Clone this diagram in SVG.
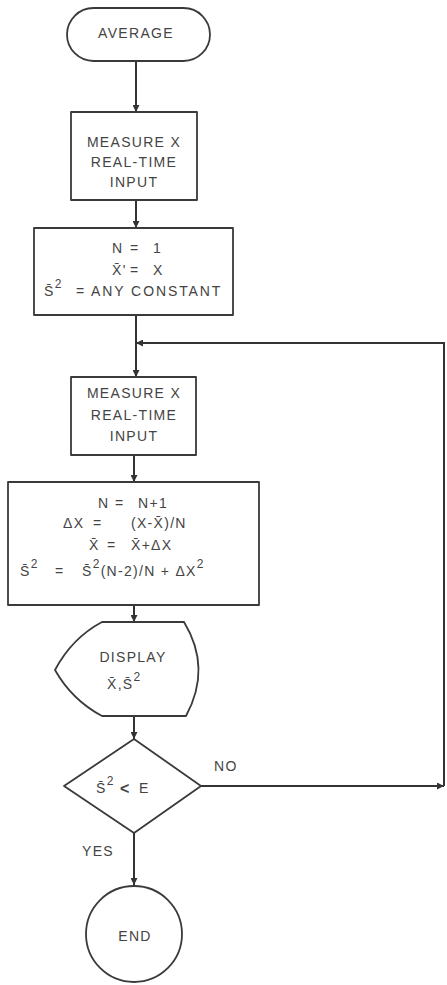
<svg xmlns="http://www.w3.org/2000/svg" width="447" height="985" viewBox="0 0 447 985">
<defs>
<marker id="ah" viewBox="0 0 10 10" refX="10" refY="5" markerWidth="7" markerHeight="7" markerUnits="userSpaceOnUse" orient="auto">
<path d="M0,0 L10,5 L0,10 z" fill="#333"/>
</marker>
<style>
.s{fill:none;stroke:#3a3a3a;stroke-width:1.8;stroke-linejoin:round}
.c{fill:none;stroke:#333;stroke-width:2}
text{font-family:"Liberation Sans","DejaVu Sans",sans-serif;font-size:14px;fill:#444;letter-spacing:1.3px}
.m{text-anchor:middle}
.sup{font-size:12px}
</style>
</defs>
<rect width="447" height="985" fill="#fff"/>
<g id="connectors">
<line class="c" x1="136" y1="61" x2="136" y2="112" marker-end="url(#ah)"/>
<line class="c" x1="136" y1="200" x2="136" y2="228" marker-end="url(#ah)"/>
<line class="c" x1="136" y1="315" x2="136" y2="377" marker-end="url(#ah)"/>
<line class="c" x1="134" y1="455" x2="134" y2="482" marker-end="url(#ah)"/>
<line class="c" x1="134" y1="605" x2="134" y2="622" marker-end="url(#ah)"/>
<line class="c" x1="134" y1="716" x2="134" y2="739" marker-end="url(#ah)"/>
<line class="c" x1="134" y1="833" x2="134" y2="885" marker-end="url(#ah)"/>
<line class="c" x1="201" y1="786" x2="444" y2="786" marker-end="url(#ah)"/>
<polyline class="c" points="444,786 444,343 136,343" marker-end="url(#ah)"/>
</g>
<g id="start">
<rect class="s" x="67" y="8" width="143" height="53" rx="26.5"/>
<text class="m" x="136" y="38">AVERAGE</text>
</g>
<g id="measure1">
<rect class="s" x="71" y="112" width="126" height="88"/>
<text class="m" x="134" y="147">MEASURE X</text>
<text class="m" x="134" y="167">REAL-TIME</text>
<text class="m" x="134" y="187">INPUT</text>
</g>
<g id="init">
<rect class="s" x="34" y="228" width="199" height="87"/>
<text x="112" y="253">N</text><text x="130" y="253">=</text><text x="153" y="253">1</text>
<text x="112" y="275">X̄'</text><text x="130" y="275">=</text><text x="153" y="275">X</text>
<text x="44" y="296">S̄<tspan class="sup" dy="-8">2</tspan></text>
<text x="76" y="296" style="letter-spacing:1.9px">= ANY CONSTANT</text>
</g>
<g id="measure2">
<rect class="s" x="71" y="377" width="125" height="78"/>
<text class="m" x="134" y="398">MEASURE X</text>
<text class="m" x="134" y="420">REAL-TIME</text>
<text class="m" x="134" y="441">INPUT</text>
</g>
<g id="update">
<rect class="s" x="8" y="482" width="251" height="123"/>
<text x="98" y="508">N</text><text x="115" y="508">=</text><text x="138" y="508">N+1</text>
<text x="63" y="528">ΔX</text><text x="93" y="528">=</text><text x="131" y="528">(X-X̄)/N</text>
<text x="89" y="550">X̄</text><text x="107" y="550">=</text><text x="131" y="550">X̄+ΔX</text>
<text x="20" y="576">S̄<tspan class="sup" dy="-8">2</tspan></text>
<text x="55" y="576">=</text>
<text x="82" y="576">S̄<tspan class="sup" dy="-8">2</tspan><tspan dy="8">(N-2)/N + ΔX</tspan><tspan class="sup" dy="-8">2</tspan></text>
</g>
<g id="display">
<path class="s" d="M102,622 L184,622 Q212,668 186,716 L102,716 Q72,700 55,670 Q72,638 102,622 Z"/>
<text class="m" x="133" y="662">DISPLAY</text>
<text x="107" y="689">X̄,S̄<tspan class="sup" dy="-8">2</tspan></text>
</g>
<g id="decision">
<path class="s" d="M134,739 L201,786 L134,833 L64,786 Z"/>
<text x="96" y="793">S̄<tspan class="sup" dy="-8">2</tspan></text>
<text x="120" y="794" style="font-weight:bold;font-size:16px">&lt;</text>
<text x="139" y="793">E</text>
</g>
<g id="labels">
<text x="214" y="771">NO</text>
<text x="82" y="856">YES</text>
</g>
<g id="end">
<circle class="s" cx="134" cy="934" r="48"/>
<text class="m" x="135" y="941">END</text>
</g>
</svg>
